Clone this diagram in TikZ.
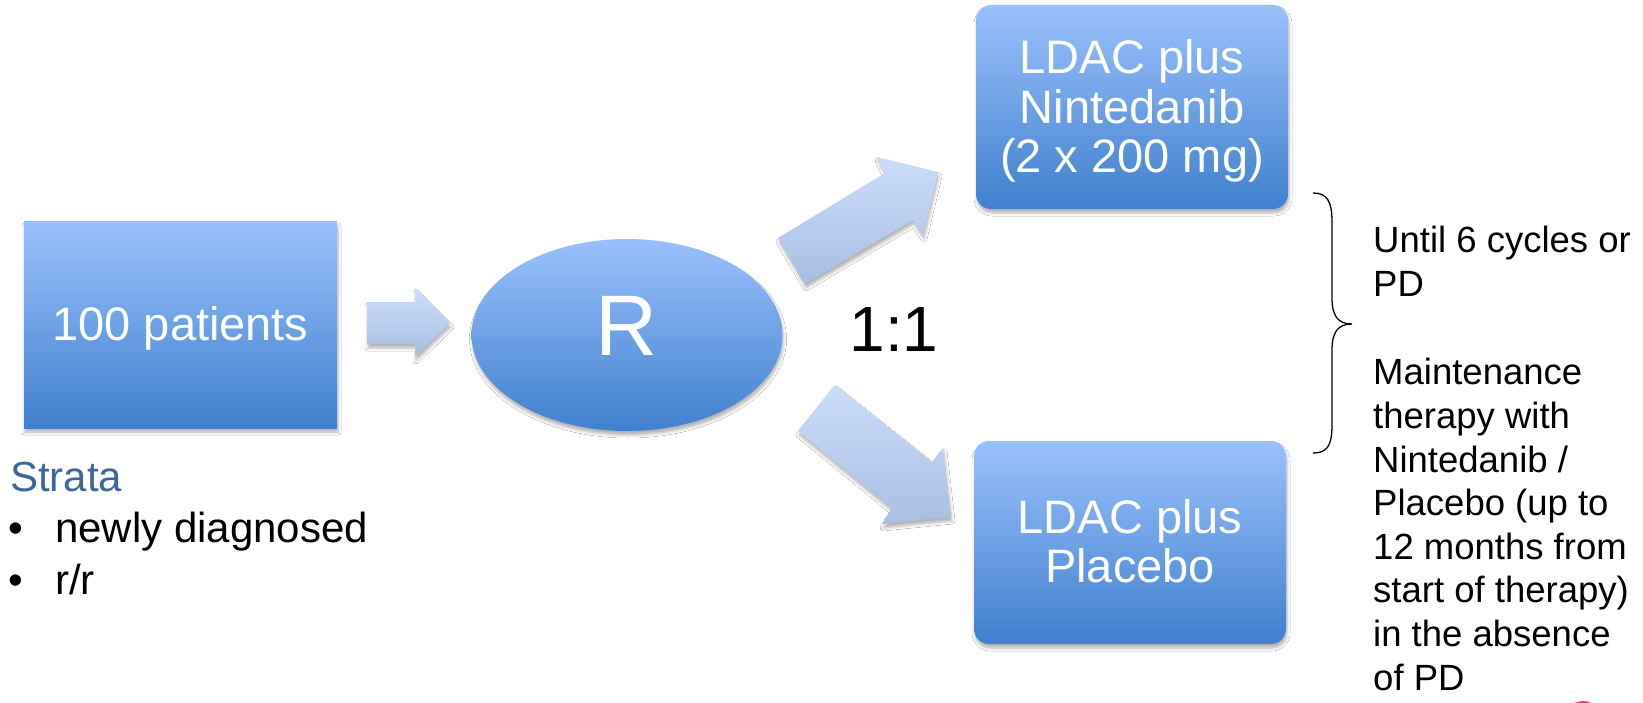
\documentclass[tikz,border=0pt]{standalone}
\usepackage{fontspec}
\setmainfont{Liberation Sans}
\usetikzlibrary{shapes.geometric,shadows.blur}
\definecolor{boxtop}{RGB}{155,193,252}
\definecolor{boxbot}{RGB}{64,128,206}
\definecolor{arrtop}{RGB}{203,220,250}
\definecolor{arrbot}{RGB}{168,190,226}
\definecolor{stratac}{RGB}{62,102,158}
\definecolor{logored}{RGB}{228,78,105}
\tikzset{
 fz/.style n args={2}{font=\fontsize{#1}{#2}\selectfont},
 bshadow/.style={blur shadow={shadow xshift=1pt, shadow yshift=-4pt, shadow blur radius=3pt, shadow opacity=30}},
 bluebox/.style={bshadow, top color=boxtop, bottom color=boxbot, draw=none, text=white, align=center, inner sep=0pt, fz={47}{49.5}},
 boxtext/.style={text=white, align=center, inner sep=0pt, fz={47}{49.5}},
 blockarrow/.style={top color=arrtop, bottom color=arrbot, draw=none, bshadow},
 plain/.style={inner sep=0pt, align=left},
}
\begin{document}
\begin{tikzpicture}[x=1pt, y=-1pt]
\useasboundingbox (0,0) rectangle (1643,703);
\fill[white] (0,0) rectangle (1643,703);

% boxes
\node[bluebox, rectangle, minimum width=313pt, minimum height=206pt, text height=34pt, text depth=4pt] (pat) at (180.5,325) {100 patients};
\node[bluebox, ellipse, minimum width=311pt, minimum height=192pt, fz={86}{90}, text height=62pt, text depth=22pt] (rand) at (627,335) {R};
\node[bluebox, rounded corners=15pt, minimum width=312pt, minimum height=204pt] (armA) at (1132,107) {};
\node[boxtext] (armAtext) at (1132,111) {LDAC plus\\Nintedanib\\(2 x 200 mg)};
\node[bluebox, rounded corners=15pt, minimum width=312pt, minimum height=203pt] (armB) at (1130,542.5) {};
\node[boxtext] (armBtext) at (1130,541) {LDAC plus\\Placebo};

% block arrows
\path[blockarrow] (367,302) -- (415,302) -- (415,288) -- (450,323) -- (415,357) -- (415,344) -- (367,344) -- cycle;
\path[blockarrow] (778,238) -- (885,173) -- (877,157) -- (938,172) -- (923,235) -- (913,220) -- (805,284) -- cycle;
\path[blockarrow] (835,385) -- (932,462) -- (943,448) -- (951,517) -- (882,524) -- (892,508) -- (798,431) -- cycle;

% ratio
\node[fz={64}{70}, anchor=base] (ratio) at (894,351) {1:1};

% brace
\draw[line width=1.3pt, black] (1313,193) .. controls (1327,193) and (1332,201) .. (1332,222) -- (1332,298)
  .. controls (1332,316) and (1338,324) .. (1352,324)
  .. controls (1338,324) and (1332,332) .. (1332,350) -- (1332,425)
  .. controls (1332,446) and (1327,453) .. (1313,453);

% side note
\node[plain, fz={36.5}{43.6}, anchor=north west] (note) at (1373,226) {Until 6 cycles or\\PD\\[45pt]Maintenance\\therapy with\\Nintedanib /\\Placebo (up to\\12 months from\\start of therapy)\\in the absence\\of PD};

% strata
\node[plain, fz={42}{51.5}, anchor=north west, text=stratac] (strata) at (10,462) {Strata};
\node[plain, fz={42}{51.5}, anchor=north west] (stratalist) at (8,512) {\makebox[47pt][l]{•}newly diagnosed\\\makebox[47pt][l]{•}r/r};

% red mark at bottom edge
\begin{scope}
\clip (0,0) rectangle (1643,703);
\fill[logored] (1583,722) ellipse [x radius=20pt, y radius=21pt];
\end{scope}
\end{tikzpicture}
\end{document}
